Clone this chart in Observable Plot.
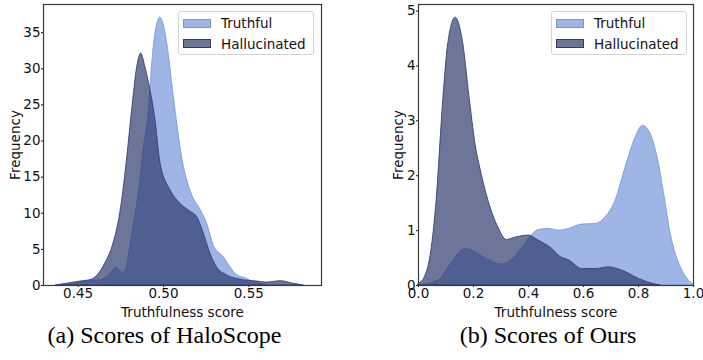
<!DOCTYPE html>
<html>
<head>
<meta charset="utf-8">
<script src="https://cdn.jsdelivr.net/npm/d3@7"></script>
<script src="https://cdn.jsdelivr.net/npm/@observablehq/plot@0.6"></script>
<style>
  html, body { margin: 0; padding: 0; background: #fff; }
  #wrap { position: relative; width: 703px; height: 360px; overflow: hidden; font-family: "DejaVu Sans", sans-serif; }
  .panel { position: absolute; top: 0; }
  .legend { position: absolute; border: 1px solid #d4d4d4; border-radius: 3px; background: rgba(255,255,255,0.8); box-sizing: border-box; }
  .row { position: absolute; left: 4px; height: 14px; display: flex; align-items: center; font-size: 13.5px; color: #111; white-space: nowrap; }
  .sw { width: 28px; height: 9px; margin-right: 10px; box-sizing: border-box; }
  .caption { position: absolute; font-family: "Liberation Serif", "Times New Roman", serif; font-size: 24px; color: #000; white-space: nowrap; transform: translateX(-50%); }
</style>
</head>
<body>
<div id="wrap"></div>
<script>
// ---- Data ----
const seriesNames = ["Truthful", "Hallucinated"];
const seriesColors = ["#7595db", "#2f3b6d"];

// (a) HaloScope: KDE curves
const haloTruthScore = [0.440, 0.449, 0.455, 0.463, 0.468, 0.4723, 0.4765, 0.4785, 0.4805, 0.4834, 0.4863, 0.4883, 0.4914, 0.4924, 0.4943, 0.4962, 0.4982, 0.5002, 0.5022, 0.506, 0.511, 0.5168, 0.5217, 0.5256, 0.5295, 0.5353, 0.5393, 0.5432, 0.5491, 0.552, 0.557, 0.561];
const haloTruthFreq  = [0, 0.23, 0.6, 0.7, 1.4, 2.45, 1.7, 2.5, 5.3, 9.5, 14.1, 18.7, 24.2, 27.5, 33.0, 36.0, 37.1, 36.0, 33.5, 26.2, 17.6, 12.5, 10.5, 8.5, 5.5, 3.9, 2.5, 1.4, 0.9, 0.55, 0.23, 0];

const haloHallScore = [0.437, 0.445, 0.4514, 0.458, 0.4658, 0.4707, 0.4746, 0.4775, 0.4789, 0.4816, 0.4846, 0.4869, 0.4894, 0.4924, 0.4953, 0.4982, 0.5041, 0.5100, 0.5158, 0.5197, 0.5236, 0.5275, 0.5314, 0.5373, 0.5451, 0.5549, 0.5608, 0.5686, 0.5764, 0.5822];
const haloHallFreq  = [0, 0.3, 0.55, 0.8, 3.0, 5.8, 9.9, 15.0, 18.0, 24.2, 30.2, 32.1, 30.2, 27.0, 22.9, 17.0, 13.2, 11.3, 10.2, 9.5, 7.2, 4.4, 2.5, 1.4, 0.8, 0.55, 0.4, 0.6, 0.23, 0];

// (b) Ours: KDE curves
const oursTruthScore = [0, 0.072, 0.120, 0.169, 0.206, 0.254, 0.303, 0.339, 0.375, 0.412, 0.436, 0.473, 0.509, 0.547, 0.595, 0.644, 0.680, 0.717, 0.753, 0.790, 0.816, 0.844, 0.869, 0.893, 0.917, 0.948, 0.978, 1.0];
const oursTruthFreq  = [0, 0.09, 0.40, 0.66, 0.61, 0.46, 0.38, 0.46, 0.67, 0.91, 1.01, 1.03, 1.00, 1.03, 1.11, 1.12, 1.24, 1.55, 2.15, 2.70, 2.91, 2.76, 2.34, 1.67, 0.94, 0.40, 0.12, 0.02];

const oursHallScore = [0, 0.023, 0.047, 0.066, 0.090, 0.108, 0.135, 0.163, 0.187, 0.211, 0.224, 0.254, 0.290, 0.321, 0.351, 0.400, 0.436, 0.485, 0.516, 0.547, 0.595, 0.644, 0.692, 0.741, 0.802, 0.851, 0.88];
const oursHallFreq  = [0.03, 0.15, 0.64, 1.55, 3.37, 4.40, 4.88, 4.40, 3.37, 2.46, 2.15, 1.55, 1.06, 0.83, 0.87, 0.91, 0.82, 0.67, 0.52, 0.46, 0.30, 0.30, 0.33, 0.27, 0.12, 0.03, 0];

// Axis ticks
const haloXTicks = [0.45, 0.50, 0.55];
const haloYTicks = [0, 5, 10, 15, 20, 25, 30, 35];
const oursXTicks = [0.0, 0.2, 0.4, 0.6, 0.8, 1.0];
const oursYTicks = [0, 1, 2, 3, 4, 5];

const captions = ["(a) Scores of HaloScope", "(b) Scores of Ours"];

// ---- Build ----
const toRows = (xs, ys) => xs.map((x, i) => ({score: x, freq: ys[i]}));
const wrap = document.getElementById("wrap");

function panel(opts) {
  const truth = toRows(opts.truthX, opts.truthY);
  const hall = toRows(opts.hallX, opts.hallY);
  const chart = Plot.plot({
    width: opts.width,
    height: 320,
    marginLeft: opts.ml,
    marginRight: opts.mr,
    marginTop: 4,
    marginBottom: 35,
    style: {fontFamily: "DejaVu Sans, sans-serif", fontSize: "13.5px", color: "#111", background: "transparent", overflow: "visible"},
    x: {domain: opts.xDomain, ticks: opts.xTicks, tickFormat: d3.format(opts.xFmt), label: "Truthfulness score", labelAnchor: "center", labelArrow: "none", tickSize: 2, tickPadding: 1, labelOffset: 31},
    y: {domain: opts.yDomain, ticks: opts.yTicks, tickFormat: d3.format("d"), label: "Frequency", labelAnchor: "center", labelArrow: "none", tickSize: 2, tickPadding: 1, labelOffset: opts.yLabelOffset},
    marks: [
      Plot.areaY(truth, {x: "score", y: "freq", curve: "monotone-x", fill: seriesColors[0], fillOpacity: 0.7, stroke: seriesColors[0], strokeOpacity: 0.85, strokeWidth: 1}),
      Plot.areaY(hall, {x: "score", y: "freq", curve: "monotone-x", fill: seriesColors[1], fillOpacity: 0.7, stroke: seriesColors[1], strokeOpacity: 0.85, strokeWidth: 1}),
      Plot.frame({stroke: "#3a3a3a", strokeWidth: 1.2})
    ]
  });
  const div = document.createElement("div");
  div.className = "panel";
  div.style.left = opts.left + "px";
  div.appendChild(chart);

  // legend (upper right, inside frame)
  const lg = document.createElement("div");
  lg.className = "legend";
  lg.style.left = opts.legendLeft + "px";
  lg.style.top = "11px";
  lg.style.width = "136px";
  lg.style.height = "44px";
  seriesNames.forEach((name, i) => {
    const row = document.createElement("div");
    row.className = "row";
    row.style.top = (4 + i * 20.5) + "px";
    const sw = document.createElement("div");
    sw.className = "sw";
    const c = d3.color(seriesColors[i]);
    c.opacity = 0.7;
    sw.style.background = c.formatRgb();
    sw.style.border = "1px solid " + seriesColors[i];
    row.appendChild(sw);
    row.appendChild(document.createTextNode(name));
    lg.appendChild(row);
  });
  div.appendChild(lg);
  wrap.appendChild(div);

  const cap = document.createElement("div");
  cap.className = "caption";
  cap.textContent = opts.caption;
  cap.style.left = opts.capX + "px";
  cap.style.top = "322px";
  wrap.appendChild(cap);
}

panel({
  left: 0, width: 351, ml: 43, mr: 30,
  truthX: haloTruthScore, truthY: haloTruthFreq, hallX: haloHallScore, hallY: haloHallFreq,
  xDomain: [0.4297, 0.5926], yDomain: [0, 38.9], xTicks: haloXTicks, yTicks: haloYTicks, xFmt: ".2f",
  yLabelOffset: 33, legendLeft: 178, caption: captions[0], capX: 164.5
});
panel({
  left: 360, width: 343, ml: 58, mr: 10,
  truthX: oursTruthScore, truthY: oursTruthFreq, hallX: oursHallScore, hallY: oursHallFreq,
  xDomain: [0, 1], yDomain: [0, 5.12], xTicks: oursXTicks, yTicks: oursYTicks, xFmt: ".1f",
  yLabelOffset: 25, legendLeft: 191, caption: captions[1], capX: 548
});
</script>
</body>
</html>
